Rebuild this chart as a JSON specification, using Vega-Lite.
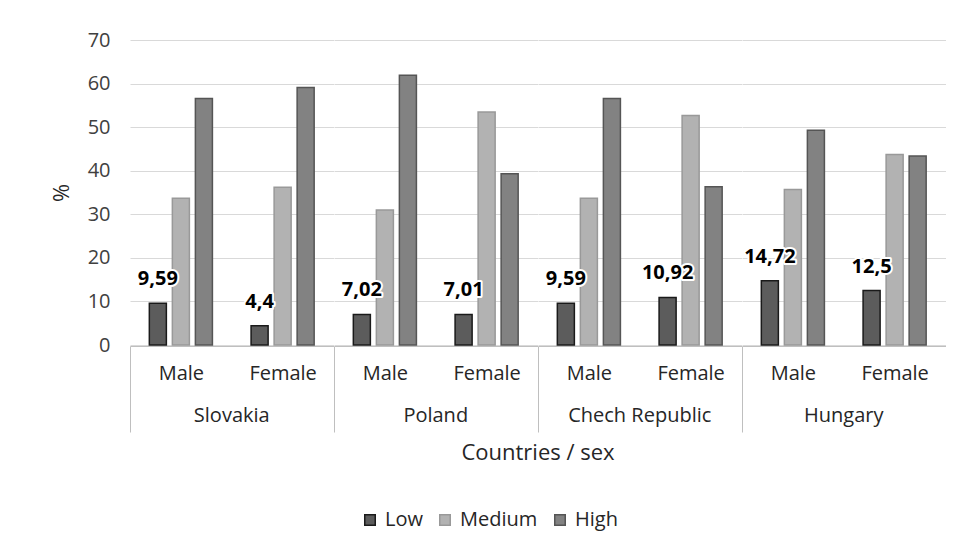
{
  "$schema": "https://vega.github.io/schema/vega-lite/v6.json",
  "background": "white",
  "padding": {"left": 50, "top": 30, "right": 5, "bottom": 5},
  "config": {
    "font": "Open Sans",
    "view": {"stroke": null},
    "axis": {"labelFont": "Open Sans", "titleFont": "Open Sans"}
  },
  "data": {
    "values": [
      {"country": "Slovakia", "sex": "Male", "level": "Low", "value": 9.59, "label": "9,59"},
      {"country": "Slovakia", "sex": "Male", "level": "Medium", "value": 33.7},
      {"country": "Slovakia", "sex": "Male", "level": "High", "value": 56.6},
      {"country": "Slovakia", "sex": "Female", "level": "Low", "value": 4.4, "label": "4,4"},
      {"country": "Slovakia", "sex": "Female", "level": "Medium", "value": 36.2},
      {"country": "Slovakia", "sex": "Female", "level": "High", "value": 59.1},
      {"country": "Poland", "sex": "Male", "level": "Low", "value": 7.02, "label": "7,02"},
      {"country": "Poland", "sex": "Male", "level": "Medium", "value": 31.0},
      {"country": "Poland", "sex": "Male", "level": "High", "value": 61.9},
      {"country": "Poland", "sex": "Female", "level": "Low", "value": 7.01, "label": "7,01"},
      {"country": "Poland", "sex": "Female", "level": "Medium", "value": 53.5},
      {"country": "Poland", "sex": "Female", "level": "High", "value": 39.3},
      {"country": "Chech Republic", "sex": "Male", "level": "Low", "value": 9.59, "label": "9,59"},
      {"country": "Chech Republic", "sex": "Male", "level": "Medium", "value": 33.7},
      {"country": "Chech Republic", "sex": "Male", "level": "High", "value": 56.6},
      {"country": "Chech Republic", "sex": "Female", "level": "Low", "value": 10.92, "label": "10,92"},
      {"country": "Chech Republic", "sex": "Female", "level": "Medium", "value": 52.7},
      {"country": "Chech Republic", "sex": "Female", "level": "High", "value": 36.3},
      {"country": "Hungary", "sex": "Male", "level": "Low", "value": 14.72, "label": "14,72"},
      {"country": "Hungary", "sex": "Male", "level": "Medium", "value": 35.7},
      {"country": "Hungary", "sex": "Male", "level": "High", "value": 49.3},
      {"country": "Hungary", "sex": "Female", "level": "Low", "value": 12.5, "label": "12,5"},
      {"country": "Hungary", "sex": "Female", "level": "Medium", "value": 43.7},
      {"country": "Hungary", "sex": "Female", "level": "High", "value": 43.4}
    ]
  },
  "facet": {
    "column": {
      "field": "country",
      "type": "nominal",
      "sort": ["Slovakia", "Poland", "Chech Republic", "Hungary"],
      "header": {
        "labelOrient": "bottom",
        "titleOrient": "bottom",
        "title": "Countries / sex",
        "labelFont": "Open Sans",
        "labelFontSize": 20,
        "labelColor": "#262626",
        "labelPadding": -27,
        "titleFont": "Open Sans",
        "titleFontSize": 22,
        "titleFontWeight": "normal",
        "titleColor": "#262626",
        "titlePadding": 0
      }
    }
  },
  "spacing": 0,
  "spec": {
    "width": 203.5,
    "height": 305,
    "encoding": {
      "x": {
        "field": "sex",
        "type": "nominal",
        "sort": ["Male", "Female"],
        "scale": {"paddingInner": 0.38, "paddingOuter": 0.19},
        "axis": {
          "title": null,
          "labelAngle": 0,
          "labelFontSize": 20,
          "labelColor": "#262626",
          "labelPadding": -69,
          "labelOffset": 19.3,
          "bandPosition": 0,
          "tickOffset": -19.3,
          "tickSize": 86,
          "tickColor": {"condition": {"test": "datum.value === 'Male'", "value": "#bfbfbf"}, "value": "transparent"},
          "domainColor": "#bfbfbf"
        }
      },
      "xOffset": {
        "field": "level",
        "type": "nominal",
        "scale": {"domain": ["Low", "Medium", "High"], "paddingInner": 0.26, "paddingOuter": 0}
      },
      "y": {
        "field": "value",
        "type": "quantitative",
        "scale": {"domain": [0, 70]},
        "axis": {
          "title": "%",
          "titleFontSize": 22,
          "titleFontWeight": "normal",
          "titleColor": "#262626",
          "titlePadding": 14,
          "values": [0, 10, 20, 30, 40, 50, 60, 70],
          "labelFontSize": 20,
          "labelColor": "#404040",
          "labelPadding": 20,
          "ticks": false,
          "domain": false,
          "gridColor": "#d9d9d9"
        }
      }
    },
    "layer": [
      {
        "mark": {"type": "bar", "strokeWidth": 1.5},
        "encoding": {
          "color": {
            "field": "level",
            "type": "nominal",
            "scale": {"domain": ["Low", "Medium", "High"], "range": ["#5c5c5c", "#b2b2b2", "#828282"]},
            "legend": {
              "title": null,
              "orient": "none",
              "direction": "horizontal",
              "legendX": 230,
              "legendY": 470,
              "symbolType": "square",
              "symbolSize": 110,
              "symbolStrokeWidth": 1.5,
              "labelFontSize": 20,
              "labelColor": "#262626",
              "labelOffset": 5,
              "columnPadding": 12
            }
          },
          "stroke": {
            "field": "level",
            "type": "nominal",
            "scale": {"domain": ["Low", "Medium", "High"], "range": ["#1a1a1a", "#999999", "#555555"]},
            "legend": null
          }
        }
      },
      {
        "transform": [{"filter": "datum.level === 'Low'"}],
        "mark": {"type": "text", "baseline": "bottom", "dy": -14, "fontSize": 20, "fontWeight": "bold", "stroke": "white", "strokeWidth": 4, "strokeJoin": "round", "fill": "white"},
        "encoding": {"text": {"field": "label"}}
      },
      {
        "transform": [{"filter": "datum.level === 'Low'"}],
        "mark": {"type": "text", "baseline": "bottom", "dy": -14, "fontSize": 20, "fontWeight": "bold", "fill": "black"},
        "encoding": {"text": {"field": "label"}}
      }
    ]
  }
}
